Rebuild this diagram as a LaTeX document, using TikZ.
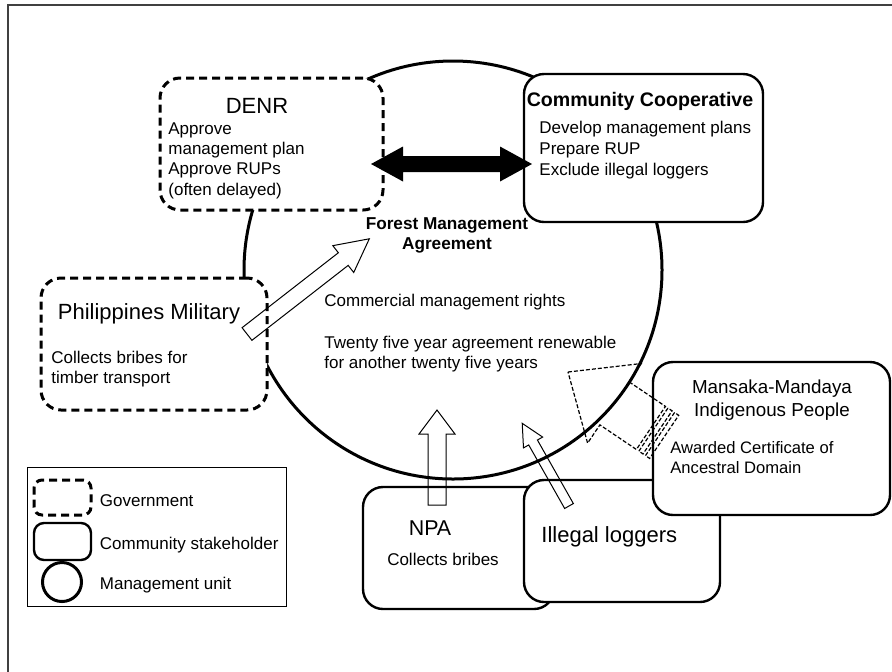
\documentclass[tikz,border=0pt]{standalone}
\usepackage{fontspec}
\setmainfont{Liberation Sans}
\usetikzlibrary{calc}
\begin{document}
\begin{tikzpicture}[x=0.5pt,y=-0.5pt,
  gov/.style={draw,line width=1.5pt,dash pattern=on 4pt off 2.5pt,rounded corners=10pt,fill=white},
  stake/.style={draw,line width=1.2pt,rounded corners=10pt,fill=white},
  blk/.style={draw,line width=0.5pt},
  body/.style={font=\fontsize{8.5}{10.2}\selectfont,inner sep=0pt,align=left},
  head/.style={font=\fontsize{11}{13}\selectfont,inner sep=0pt}]
\useasboundingbox (0,0) rectangle (892,671);
\draw[line width=0.7pt,black!75] (8,690) |- (910,5);

\node[circle,draw,line width=1.5pt,minimum size=209pt,inner sep=0pt] (unit) at (453,270) {};

\node[gov,minimum width=111.5pt,minimum height=66pt] (denr) at (271.5,144) {};
\node[stake,minimum width=119.5pt,minimum height=74pt] (coop) at (643.5,148) {};
\node[gov,minimum width=113pt,minimum height=66pt] (army) at (154,344) {};
\node[stake,minimum width=95.5pt,minimum height=61pt] (npa) at (458.5,548) {};
\node[stake,minimum width=98pt,minimum height=61pt] (loggers) at (622,541) {};
\node[stake,minimum width=118.5pt,minimum height=76.5pt] (mansaka) at (771.5,438.5) {};

\node[head,anchor=base] (denrT) at (257,113) {DENR};
\node[body,anchor=north west] (denrB) at (168,122) {Approve\\management plan\\Approve RUPs\\(often delayed)};
\node[inner sep=0pt,anchor=base,font=\fontsize{9.8}{12}\selectfont\bfseries] (coopT) at (640,106) {Community Cooperative};
\node[body,anchor=north west,font=\fontsize{8.5}{10.5}\selectfont] (coopB) at (539,121) {Develop management plans\\Prepare RUP\\Exclude illegal loggers};
\node[body,align=center,anchor=north,font=\fontsize{8.6}{10}\selectfont\bfseries] (fmaT) at (447,217) {Forest Management\\Agreement};
\node[body,anchor=base west] (rights) at (324,306) {Commercial management rights};
\node[body,anchor=north west,font=\fontsize{8.5}{10}\selectfont] (term) at (324,336) {Twenty five year agreement renewable\\for another twenty five years};
\node[head,anchor=base] (armyT) at (149,319) {Philippines Military};
\node[body,anchor=north west,font=\fontsize{8.5}{10}\selectfont] (armyB) at (51,351) {Collects bribes for\\timber transport};
\node[inner sep=0pt,align=center,anchor=north,font=\fontsize{9.4}{11.5}\selectfont] (mansakaT) at (772,379) {Mansaka-Mandaya\\Indigenous People};
\node[body,anchor=north west,font=\fontsize{8.3}{10}\selectfont] (mansakaB) at (670,441) {Awarded Certificate of\\Ancestral Domain};
\node[head,anchor=base,font=\fontsize{10.7}{13}\selectfont] (npaT) at (430,535) {NPA};
\node[body,anchor=base] (npaB) at (443,565) {Collects bribes};
\node[head,anchor=base west] (loggersT) at (541,542) {Illegal loggers};

% legend
\node[draw,line width=0.5pt,minimum width=129.5pt,minimum height=69.5pt,inner sep=0pt] (legend) at (156.5,536.5) {};
\node[gov,minimum width=28.5pt,minimum height=17.5pt,rounded corners=4pt] (legGov) at (62.5,497.5) {};
\node[stake,minimum width=28.5pt,minimum height=18.5pt,rounded corners=5pt] (legStake) at (62.5,541.5) {};
\node[circle,draw,line width=1.5pt,minimum size=19.5pt,inner sep=0pt] (legUnit) at (62,582) {};
\node[body,anchor=base west] (legGovT) at (99.5,506) {Government};
\node[body,anchor=base west] (legStakeT) at (99.5,549) {Community stakeholder};
\node[body,anchor=base west] (legUnitT) at (99.5,589) {Management unit};

% DENR <-> cooperative
\coordinate (dblL) at (371,164);
\coordinate (dblR) at (532,164);
\fill (dblL) -- ++(32,-17.5) -- ++(0,9.5) -- ($(dblR)+(-32,-8)$) -- ++(0,-9.5) -- (dblR)
  -- ++(-32,17.5) -- ++(0,-9.5) -- ($(dblL)+(32,8)$) -- ++(0,9.5) -- cycle;

% block arrows
\begin{scope}[shift={(247,334)},rotate=37.9]
\draw[blk] (0,-8) -- (122,-8) -- (122,-17) -- (155,0) -- (122,17) -- (122,8) -- (0,8) -- cycle;
\end{scope}
\draw[blk] (428,505) -- (428,434) -- (419,434) -- (437,410) -- (455,434) -- (446,434) -- (446,505) -- cycle;
\begin{scope}[shift={(569,506)},rotate=119.5]
\draw[blk] (0,-5) -- (73,-5) -- (73,-11) -- (95,0) -- (73,11) -- (73,5) -- (0,5) -- cycle;
\end{scope}
\begin{scope}[shift={(568,372)},rotate=-34,line width=0.6pt,dash pattern=on 2pt off 1pt]
\draw (0,0) -- (56,-48) -- (56,-26) -- (100,-26) -- (100,26) -- (56,26) -- (56,48) -- cycle;
\draw (103,-26) rectangle (108,26);
\draw (111,-26) rectangle (116,26);
\end{scope}
\end{tikzpicture}
\end{document}
